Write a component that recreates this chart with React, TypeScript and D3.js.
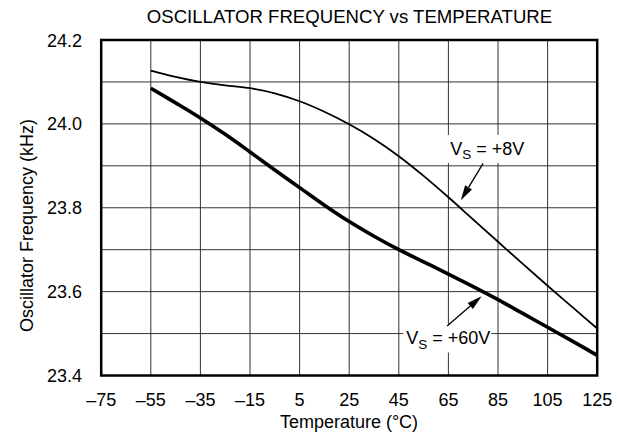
import React from "react";
import * as d3 from "d3";

const temps = [-55, -45, -35, -25, -15, -5, 5, 15, 25, 35, 45, 55, 65, 75, 85, 95, 105, 115, 125];
const vs8 = [24.127, 24.112, 24.1, 24.092, 24.085, 24.073, 24.054, 24.029, 23.999, 23.964, 23.923, 23.876, 23.825, 23.772, 23.719, 23.666, 23.614, 23.563, 23.512];
const vs60 = [24.085, 24.05, 24.014, 23.975, 23.933, 23.89, 23.848, 23.806, 23.767, 23.732, 23.7, 23.671, 23.642, 23.612, 23.581, 23.548, 23.515, 23.482, 23.448];
const xTicks = [-75, -55, -35, -15, 5, 25, 45, 65, 85, 105, 125];
const yTicks = [23.4, 23.6, 23.8, 24.0, 24.2];
const yGrid = [23.5, 23.6, 23.7, 23.8, 23.9, 24.0, 24.1];

const ann8 = { text: "+8V", lx: 65.7, ly: 23.926, tail: [79, 23.906], tip: [70, 23.818] };
const ann60 = { text: "+60V", lx: 48, ly: 23.474, tail: [64.5, 23.518], tip: [78.4, 23.589] };

const W = 620, H = 440;
const FONT = "'Liberation Sans', Arial, Helvetica, sans-serif";

export default function App() {
  const x = d3.scaleLinear().domain([-75, 125]).range([101.2, 597.2]);
  const y = d3.scaleLinear().domain([23.4, 24.2]).range([375.5, 40]);
  const line = d3.line<number>().x((_, i) => x(temps[i])).y((d) => y(d)).curve(d3.curveCatmullRom.alpha(0.5));

  const arrow = (a: typeof ann8, key: string) => {
    const x1 = x(a.tail[0]), y1 = y(a.tail[1]), x2 = x(a.tip[0]), y2 = y(a.tip[1]);
    const ang = Math.atan2(y2 - y1, x2 - x1);
    const L = 15, Wd = 4;
    const bx = x2 - L * Math.cos(ang), by = y2 - L * Math.sin(ang);
    const px = -Math.sin(ang) * Wd, py = Math.cos(ang) * Wd;
    return (
      <g key={key}>
        <line x1={x1} y1={y1} x2={bx} y2={by} stroke="#000" strokeWidth={1.3} />
        <path d={`M${x2},${y2}L${bx + px},${by + py}L${bx - px},${by - py}Z`} fill="#000" />
      </g>
    );
  };

  const label = (a: typeof ann8, key: string, w: number) => {
    const lx = x(a.lx), ly = y(a.ly);
    return (
      <g key={key}>
        <rect x={lx - 3} y={ly - 20} width={w} height={28} fill="#fff" />
        <text x={lx} y={ly} fontSize={18} fontFamily={FONT}>
          V<tspan fontSize={13.5} dy={4.5}>S</tspan>
          <tspan dy={-4.5}>{` = ${a.text}`}</tspan>
        </text>
      </g>
    );
  };

  return (
    <svg width={W} height={H} style={{ position: "absolute", left: 0, top: 0, background: "#fff" }}>
      <text x={349.5} y={23} textAnchor="middle" fontSize={18.6} fontFamily={FONT}>
        OSCILLATOR FREQUENCY vs TEMPERATURE
      </text>
      {xTicks.slice(1, -1).map((t) => (
        <line key={"gx" + t} x1={x(t)} x2={x(t)} y1={y(24.2)} y2={y(23.4)} stroke="#333" strokeWidth={1} />
      ))}
      {yGrid.map((v) => (
        <line key={"gy" + v} x1={x(-75)} x2={x(125)} y1={y(v)} y2={y(v)} stroke="#333" strokeWidth={1} />
      ))}
      {label(ann8, "l8", 82)}
      {label(ann60, "l60", 88)}
      <path d={line(vs8) || ""} fill="none" stroke="#000" strokeWidth={1.8} />
      <path d={line(vs60) || ""} fill="none" stroke="#000" strokeWidth={3.6} />
      {arrow(ann8, "a8")}
      {arrow(ann60, "a60")}
      <rect x={x(-75)} y={y(24.2)} width={x(125) - x(-75)} height={y(23.4) - y(24.2)} fill="none" stroke="#000" strokeWidth={2.5} />
      {xTicks.map((t) => (
        <text key={"xt" + t} x={x(t)} y={406} textAnchor="middle" fontSize={18} fontFamily={FONT}>
          {t < 0 ? "\u2013" + Math.abs(t) : String(t)}
        </text>
      ))}
      {yTicks.map((v) => (
        <text key={"yt" + v} x={82} y={y(v) + 6.5} textAnchor="end" fontSize={18} fontFamily={FONT}>
          {v.toFixed(1)}
        </text>
      ))}
      <text x={349} y={428} textAnchor="middle" fontSize={18} fontFamily={FONT}>
        Temperature (°C)
      </text>
      <text transform={`translate(33,225.5) rotate(-90)`} textAnchor="middle" fontSize={18} fontFamily={FONT}>
        Oscillator Frequency (kHz)
      </text>
    </svg>
  );
}
